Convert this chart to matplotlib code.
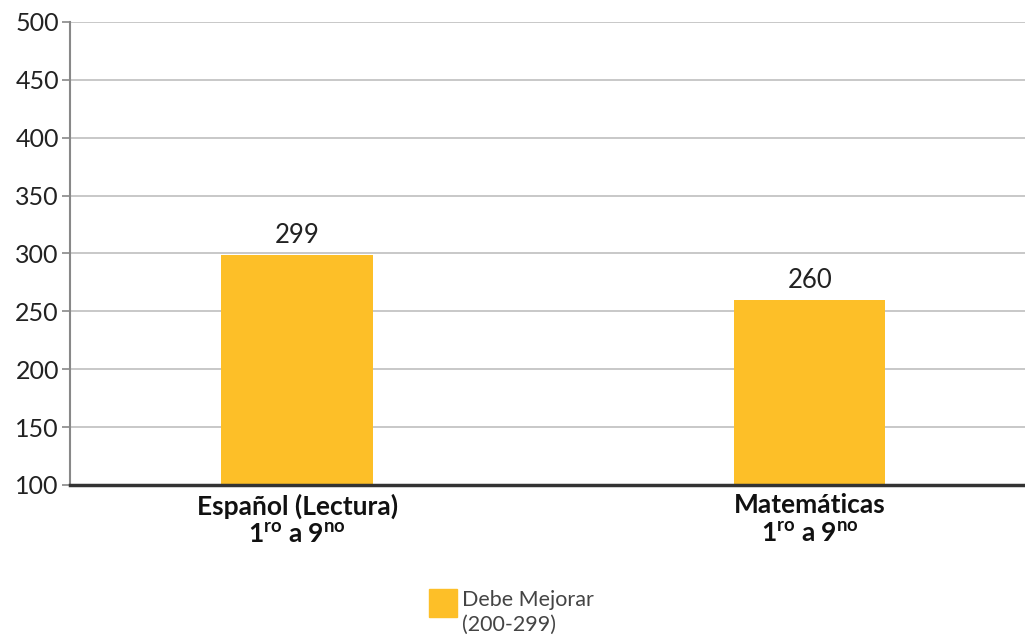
import matplotlib
matplotlib.use('Agg')
import matplotlib.pyplot as plt
from matplotlib.patches import Rectangle

plt.rcParams['font.family'] = ['Lato', 'DejaVu Sans']
plt.rcParams['mathtext.fontset'] = 'custom'
plt.rcParams['mathtext.rm'] = 'Lato'
plt.rcParams['mathtext.bf'] = 'Lato:bold'

materias = ['Español (Lectura)', 'Matemáticas']
grados = [r'$\mathbf{1^{ro}}$ a $\mathbf{9^{no}}$', r'$\mathbf{1^{ro}}$ a $\mathbf{9^{no}}$']
puntajes = [299, 260]
yticks = [100, 150, 200, 250, 300, 350, 400, 450, 500]
leyenda = 'Debe Mejorar\n(200-299)'

color_barra = '#FDBF28'

fig = plt.figure(figsize=(10.25, 6.41), dpi=100)
ax = fig.add_axes([0.0683, 0.2434, 0.9317, 0.7223])

x = list(range(len(materias)))
bars = ax.bar(x, puntajes, width=0.295, color=color_barra, zorder=3)

for b, v in zip(bars, puntajes):
    ax.text(b.get_x() + b.get_width() / 2, v + 6, str(v), ha='center', va='bottom',
            fontsize=18.5, color='#222222')

ax.set_ylim(100, 500)
ax.set_xlim(-0.443, 1.42)
ax.set_yticks(yticks)
ax.set_yticklabels([str(t) for t in yticks], fontsize=18, color='#222222')
ax.set_xticks(x)
ax.set_xticklabels([m + '\n' + g for m, g in zip(materias, grados)],
                   fontsize=19, fontweight='bold', color='#111111', linespacing=1.2)
ax.tick_params(axis='x', length=0, pad=6)
ax.tick_params(axis='y', length=6, width=1.2, color='#888888', pad=2)

ax.grid(axis='y', color='#c4c4c4', linewidth=1.3, zorder=0)
for s in ['top', 'right']:
    ax.spines[s].set_visible(False)
ax.spines['left'].set_color('#888888')
ax.spines['left'].set_linewidth(1.5)
ax.spines['bottom'].set_color('#333333')
ax.spines['bottom'].set_linewidth(2.5)
ax.spines['bottom'].set_zorder(4)

# leyenda manual: cuadro alineado con la primera linea
fig.add_artist(Rectangle((429 / 1025, 1 - 617 / 641), 28 / 1025, 28 / 641,
                         transform=fig.transFigure, color=color_barra))
fig.text(462 / 1025, 1 - 590 / 641, leyenda, ha='left', va='top', fontsize=15.5,
         color='#444444', linespacing=1.3)

fig.savefig('out.png', dpi=100)
